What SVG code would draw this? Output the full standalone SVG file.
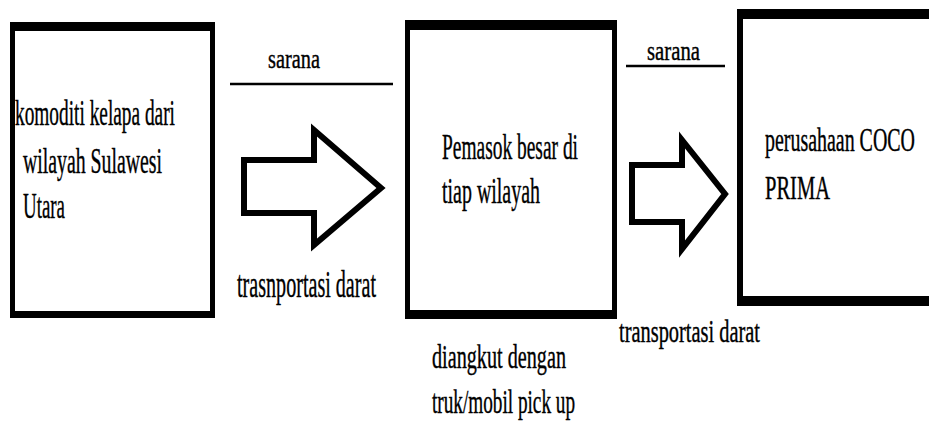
<svg xmlns="http://www.w3.org/2000/svg" width="929" height="430" viewBox="0 0 929 430">
<style>
.t{font-family:"Liberation Serif","Times New Roman",serif;fill:#000;stroke:#000;stroke-width:0.4;}
.box-out{fill:#000;}
.box-in{fill:#fff;}
.arrow{fill:#fff;stroke:#000;stroke-width:6;stroke-linejoin:miter;}
.line{stroke:#000;stroke-width:2.5;}
</style>
<rect width="929" height="430" fill="#fff"/>
<g id="node-komoditi">
<rect class="box-out" x="10" y="22" width="205" height="296"/>
<rect class="box-in" x="15" y="31" width="195" height="280"/>
<text class="t" x="15" y="125" font-size="36" textLength="160" lengthAdjust="spacingAndGlyphs">komoditi kelapa dari</text>
<text class="t" x="23" y="173" font-size="36" textLength="139" lengthAdjust="spacingAndGlyphs">wilayah Sulawesi</text>
<text class="t" x="23" y="218" font-size="36" textLength="42" lengthAdjust="spacingAndGlyphs">Utara</text>
</g>
<g id="node-pemasok">
<rect class="box-out" x="405" y="20" width="212" height="299"/>
<rect class="box-in" x="410" y="30" width="202" height="280"/>
<text class="t" x="442" y="159" font-size="36" textLength="136" lengthAdjust="spacingAndGlyphs">Pemasok besar di</text>
<text class="t" x="442" y="203" font-size="36" textLength="98" lengthAdjust="spacingAndGlyphs">tiap wilayah</text>
</g>
<g id="node-cocoprima">
<rect class="box-out" x="737" y="9" width="192" height="297"/>
<rect class="box-in" x="743" y="19" width="186" height="277"/>
<g transform="translate(765 151) scale(0.6 1)">
<text class="t" x="0" y="0" font-size="34" textLength="250" lengthAdjust="spacingAndGlyphs">perusahaan COCO</text>
</g>
<text class="t" x="765" y="199" font-size="34" textLength="65" lengthAdjust="spacingAndGlyphs">PRIMA</text>
</g>
<g id="connectors">
<g id="conn-1">
<line class="line" x1="230" y1="84" x2="393" y2="84"/>
<text class="t" x="268" y="68" font-size="28" textLength="52" lengthAdjust="spacingAndGlyphs">sarana</text>
<polygon class="arrow" points="244,160 314,160 314,130 381,188 314,245 314,213 244,213"/>
<text class="t" x="237" y="297" font-size="38" textLength="139" lengthAdjust="spacingAndGlyphs">trasnportasi darat</text>
</g>
<g id="conn-2">
<line class="line" x1="626" y1="66" x2="725" y2="66"/>
<text class="t" x="647" y="60" font-size="28" textLength="53" lengthAdjust="spacingAndGlyphs">sarana</text>
<polygon class="arrow" points="632,165 682,165 682,140 725,194 682,249 682,222 632,222"/>
<text class="t" x="619" y="342" font-size="32" textLength="141" lengthAdjust="spacingAndGlyphs">transportasi darat</text>
</g>
<text class="t" x="432" y="368" font-size="34" textLength="134" lengthAdjust="spacingAndGlyphs">diangkut dengan</text>
<text class="t" x="432" y="413" font-size="34" textLength="143" lengthAdjust="spacingAndGlyphs">truk/mobil pick up</text>
</g>
</svg>
